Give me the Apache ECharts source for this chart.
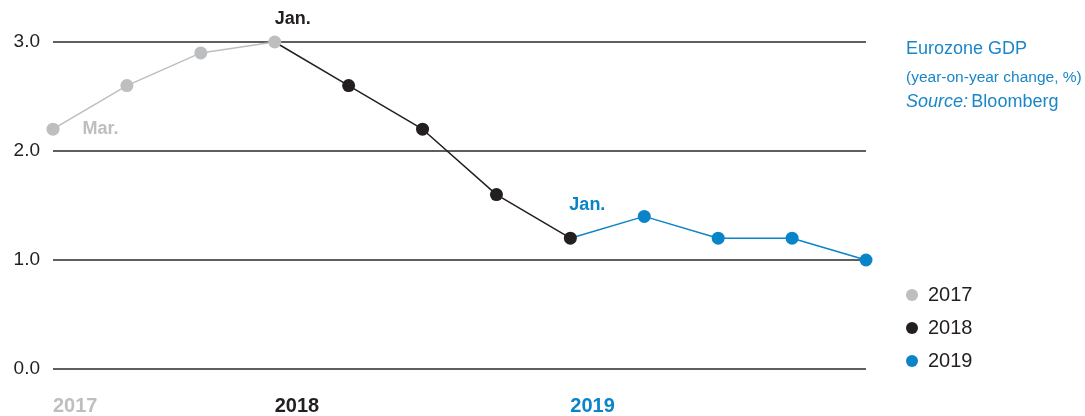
<!DOCTYPE html>
<html>
<head>
<meta charset="utf-8">
<script src="https://cdn.jsdelivr.net/npm/echarts@6/dist/echarts.min.js"></script>
<style>
html,body{margin:0;padding:0;background:#fff;}
#chart{width:1085px;height:416px;}
</style>
</head>
<body>
<div id="chart"></div>
<script>
// ---- data ----
const categories = ['Mar17','Jun17','Sep17','Jan18','Apr18','Jul18','Oct18','Jan19','Apr19','Jul19','Oct19','Jan20'];
const gdp = [2.2, 2.6, 2.9, 3.0, 2.6, 2.2, 1.6, 1.2, 1.4, 1.2, 1.2, 1.0];
const tickLabels = ['2017','','','2018','','','','2019','','','',''];
const yTicks = [0, 1, 2, 3];
const years = ['2017','2018','2019'];
const segStart = [0, 3, 7];
const segEnd = [3, 7, 11];
const annotations = ['Mar.', 'Jan.', 'Jan.'];
const annotationIndex = [0, 3, 7];
const titleLines = ['Eurozone GDP', '(year-on-year change, %)', 'Source:', 'Bloomberg'];

// ---- styles ----
const FONT = '"Liberation Sans", Arial, sans-serif';
const colors = ['#bcbec0', '#231f20', '#0a84c8'];
const tickColors = ['#bcbec0', '#231f20', '#0a84c8'];

function segData(s) {
  return gdp.map((v, i) => {
    if (i < segStart[s] || i > segEnd[s]) return null;
    const item = { value: v };
    if (s > 0 && i === segStart[s]) item.symbol = 'none';
    return item;
  });
}

const series = years.map((y, s) => {
  const data = segData(s);
  return {
    name: y,
    type: 'line',
    data: data,
    z: 10 - s,
    clip: false,
    symbol: 'circle',
    symbolSize: 13,
    showAllSymbol: true,
    lineStyle: { color: colors[s], width: 1.5 },
    itemStyle: { color: colors[s] },
    emphasis: { disabled: true },
    silent: true
  };
});

series[0].data[annotationIndex[0]].label = {
  show: true, formatter: annotations[0], position: 'right', distance: 23,
  color: colors[0], fontFamily: FONT, fontWeight: 'bold', fontSize: 18
};
series[0].data[annotationIndex[1]].label = {
  show: true, formatter: annotations[1], position: 'top', distance: 7, offset: [18, 0],
  color: colors[1], fontFamily: FONT, fontWeight: 'bold', fontSize: 18
};
series[1].data[annotationIndex[2]].label = {
  show: true, formatter: annotations[2], position: 'top', distance: 18, offset: [17, 0],
  color: colors[2], fontFamily: FONT, fontWeight: 'bold', fontSize: 18
};

const chart = echarts.init(document.getElementById('chart'), null, { renderer: 'canvas' });
chart.setOption({
  animation: false,
  backgroundColor: '#fff',
  grid: { left: 53, right: 219, top: 42, bottom: 47, containLabel: false },
  xAxis: {
    type: 'category',
    data: categories,
    boundaryGap: false,
    axisLine: { show: false },
    axisTick: { show: false },
    splitLine: { show: false },
    axisLabel: {
      interval: 0,
      margin: 27,
      align: 'left',
      fontFamily: FONT,
      fontWeight: 'bold',
      fontSize: 20,
      formatter: (v, i) => {
        const t = tickLabels[i];
        if (!t) return '';
        const k = years.indexOf(t);
        return '{y' + k + '|' + t + '}';
      },
      rich: {
        y0: { color: tickColors[0], fontFamily: FONT, fontWeight: 'bold', fontSize: 20 },
        y1: { color: tickColors[1], fontFamily: FONT, fontWeight: 'bold', fontSize: 20 },
        y2: { color: tickColors[2], fontFamily: FONT, fontWeight: 'bold', fontSize: 20 }
      }
    }
  },
  yAxis: {
    type: 'value',
    min: yTicks[0],
    max: yTicks[yTicks.length - 1],
    interval: 1,
    axisLine: { show: false },
    axisTick: { show: false },
    splitLine: { lineStyle: { color: '#2a2a2a', width: 1.5 } },
    axisLabel: {
      margin: 13,
      color: '#231f20',
      fontFamily: FONT,
      fontSize: 19,
      formatter: v => v.toFixed(1)
    }
  },
  legend: {
    orient: 'vertical',
    left: 906,
    top: 285,
    padding: 0,
    icon: 'circle',
    itemWidth: 12,
    itemHeight: 12,
    itemGap: 13,
    selectedMode: false,
    data: years,
    textStyle: { color: '#231f20', fontFamily: FONT, fontSize: 20, lineHeight: 20, padding: [0, 0, 0, 5] }
  },
  graphic: [
    { type: 'text', left: 906, top: 40, silent: true,
      style: { text: titleLines[0], fill: '#1a86c8', font: '18px ' + FONT } },
    { type: 'text', left: 906, top: 70, silent: true,
      style: { text: titleLines[1], fill: '#1a86c8', font: '15.5px ' + FONT } },
    { type: 'text', left: 906, top: 93, silent: true,
      style: {
        text: '{i|' + titleLines[2] + '} {r|' + titleLines[3] + '}',
        rich: {
          i: { fill: '#1a86c8', fontStyle: 'italic', fontSize: 18, fontFamily: FONT },
          r: { fill: '#1a86c8', fontSize: 18, fontFamily: FONT }
        }
      } }
  ],
  series: series
});
</script>
</body>
</html>
